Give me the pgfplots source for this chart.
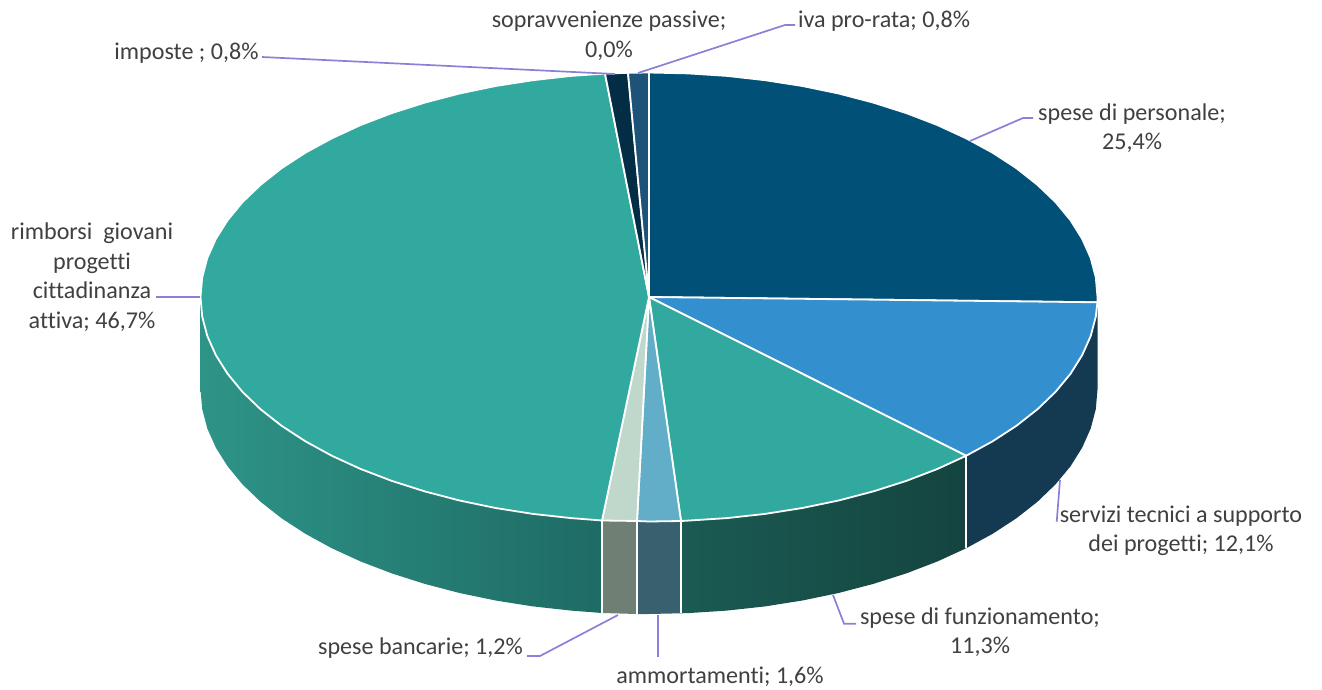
\documentclass[border=0pt]{standalone}
\usepackage{fontspec}
\setmainfont{Carlito}[Ligatures=NoCommon]
\usepackage{pgfplots}
\pgfplotsset{compat=1.18}

\definecolor{cPers}{HTML}{005078}
\definecolor{cServ}{HTML}{348FCE}
\definecolor{cFunz}{HTML}{32A99E}
\definecolor{cAmm}{HTML}{62AEC8}
\definecolor{cBanc}{HTML}{C0D8CB}
\definecolor{cImp}{HTML}{032D45}
\definecolor{cIva}{HTML}{1D5379}
\definecolor{sRimbL}{HTML}{2E9488}
\definecolor{sRimbR}{HTML}{1E6B64}
\definecolor{sFunzL}{HTML}{1A5B53}
\definecolor{sFunzR}{HTML}{15443F}
\definecolor{sServ}{HTML}{143A52}
\definecolor{sAmm}{HTML}{38606F}
\definecolor{sBanc}{HTML}{6F7F73}
\definecolor{leader}{HTML}{8B80D8}
\definecolor{txt}{HTML}{404040}

\pgfplotsset{
  topface/.style={draw=white, line width=0.9pt, line join=round, fill=#1},
  sideface/.style={draw=none, fill=#1},
  sep/.style={draw=white, line width=0.75pt},
  lead/.style={draw=leader, line width=0.85pt},
}
\tikzset{lab/.style={text=txt, align=center, inner sep=0pt,
  font=\fontsize{12.05}{14.75}\selectfont}}

\begin{document}
\begin{tikzpicture}
\useasboundingbox (0,0) rectangle (661pt,345pt);
% axis units are pixels of the picture
\begin{axis}[
  at={(0,0)}, anchor=south west,
  scale only axis, width=661pt, height=345pt,
  xmin=0, xmax=1322, ymin=0, ymax=690,
  y dir=reverse, hide axis, clip=false, no markers,
]
% sides
% rimborsi
\addplot[draw=none, left color=sRimbL, right color=sRimbR] coordinates {
 (602,520.5) (571.1,518.1) (532.9,513.9) (495.6,508.0) (459.5,500.5) (424.8,491.4)
 (391.8,480.9) (360.7,469.0) (331.9,455.8) (305.4,441.3) (281.6,425.8) (260.6,409.3)
 (242.5,391.9) (227.6,373.8) (215.8,355.1) (207.3,336.0) (202.2,316.6) (200.5,297)
 (200.5,389.5) (202.2,409.1) (207.3,428.5) (215.8,447.6) (227.6,466.3) (242.5,484.4)
 (260.6,501.8) (281.6,518.3) (305.4,533.8) (331.9,548.3) (360.7,561.5) (391.8,573.4)
 (424.8,583.9) (459.5,593.0) (495.6,600.5) (532.9,606.4) (571.1,610.6) (602,613)
} -- cycle;
% spese bancarie
\addplot[sideface=sBanc] coordinates {(637,521) (602,520.5) (602,613) (637,614)} -- cycle;
% ammortamenti
\addplot[sideface=sAmm] coordinates {(681,521) (637,521) (637,614) (649,614) (681,613.3)} -- cycle;
% spese di funzionamento
\addplot[draw=none, left color=sFunzL, right color=sFunzR] coordinates {
 (966.1,455.8) (937.3,469.0) (906.3,480.9) (873.3,491.4) (838.6,500.5) (802.4,508.0)
 (765.1,513.9) (726.9,518.1) (688.1,520.6) (681,521)
 (681,613.3) (688.1,613.1) (726.9,610.6) (765.1,606.4) (802.4,600.5) (838.6,593.0)
 (873.3,583.9) (906.3,573.4) (937.3,561.5) (966.1,548.3)
} -- cycle;
% servizi tecnici
\addplot[sideface=sServ] coordinates {
 (1097.5,302) (1095.8,316.6) (1090.7,336.0) (1082.2,355.1) (1070.5,373.8) (1055.5,391.9)
 (1037.4,409.3) (1016.4,425.8) (992.6,441.3) (966.1,455.8)
 (966.1,548.3) (992.6,533.8) (1016.4,518.3) (1037.4,501.8) (1055.5,484.4) (1070.5,466.3)
 (1082.2,447.6) (1090.7,428.5) (1095.8,409.1) (1097.5,389.5)
} -- cycle;
% side separators
\addplot[sep] coordinates {(966.1,455.8) (966.1,548.3)};
\addplot[sep] coordinates {(681,521) (681,613.3)};
\addplot[sep] coordinates {(637,521) (637,614)};
\addplot[sep] coordinates {(602,520.5) (602,613)};

% top face
% spese di personale 25,4%
\addplot[topface=cPers] coordinates {
 (649,297) (649,72.5) (688.1,73.4) (726.9,75.9) (765.1,80.2) (802.4,86.0) (838.6,93.5)
 (873.3,102.6) (906.3,113.1) (937.3,125.0) (966.1,138.3) (992.6,152.7) (1016.4,168.2)
 (1037.4,184.8) (1055.5,202.1) (1070.5,220.2) (1082.2,238.9) (1090.7,258.0) (1095.8,277.4)
 (1097.5,297) (1097.4,302.3)
} -- cycle;
% servizi tecnici 12,1%
\addplot[topface=cServ] coordinates {
 (649,297) (1097.4,302.3) (1095.8,316.6) (1090.7,336.0) (1082.2,355.1) (1070.5,373.8)
 (1055.5,391.9) (1037.4,409.3) (1016.4,425.8) (992.6,441.3) (966.1,455.8)
} -- cycle;
% spese di funzionamento 11,3%
\addplot[topface=cFunz] coordinates {
 (649,297) (966.1,455.8) (937.3,469.0) (906.3,480.9) (873.3,491.4) (838.6,500.5)
 (802.4,508.0) (765.1,513.9) (726.9,518.1) (688.1,520.6) (681,521)
} -- cycle;
% ammortamenti 1,6%
\addplot[topface=cAmm] coordinates {(649,297) (681,521) (649,521.5) (637,521)} -- cycle;
% spese bancarie 1,2%
\addplot[topface=cBanc] coordinates {(649,297) (637,521) (609.9,520.6) (602,520.5)} -- cycle;
% rimborsi 46,7%
\addplot[topface=cFunz] coordinates {
 (649,297) (602,520.5) (571.1,518.1) (532.9,513.9) (495.6,508.0) (459.5,500.5) (424.8,491.4)
 (391.8,480.9) (360.7,469.0) (331.9,455.8) (305.4,441.3) (281.6,425.8) (260.6,409.3)
 (242.5,391.9) (227.6,373.8) (215.8,355.1) (207.3,336.0) (202.2,316.6) (200.5,297)
 (202.2,277.4) (207.3,258.0) (215.8,238.9) (227.6,220.2) (242.5,202.1) (260.6,184.8)
 (281.6,168.2) (305.4,152.7) (331.9,138.3) (360.7,125.0) (391.8,113.1) (424.8,102.6)
 (459.5,93.5) (495.6,86.0) (532.9,80.2) (571.1,75.9) (605,73.6)
} -- cycle;
% imposte 0,8%
\addplot[topface=cImp] coordinates {(649,297) (605,73.6) (628,72.8)} -- cycle;
% iva pro-rata 0,8%
\addplot[topface=cIva] coordinates {(649,297) (628,72.8) (649,72.5)} -- cycle;

% leader lines
\addplot[lead] coordinates {(262,57) (615,74)};
\addplot[lead] coordinates {(638,73) (785,25) (795,25)};
\addplot[lead] coordinates {(970,141) (1023,118) (1033,118)};
\addplot[lead] coordinates {(1060,480) (1056.7,521.7)};
\addplot[lead] coordinates {(833,595) (844,623.7) (856,623.7)};
\addplot[lead] coordinates {(658,615) (658,657)};
\addplot[lead] coordinates {(618,615) (540,656) (527,656)};
\addplot[lead] coordinates {(156,297) (200,297)};

% labels
\node[lab] at (axis cs:609,36) {sopravvenienze passive;\\0,0\%};
\node[lab] at (axis cs:884,21) {iva pro-rata; 0,8\%};
\node[lab] at (axis cs:186.5,53) {imposte ; 0,8\%};
\node[lab] at (axis cs:1132,128) {spese di personale;\\25,4\%};
\node[lab] at (axis cs:92,277) {rimborsi\ \ giovani\\progetti\\cittadinanza\\attiva; 46,7\%};
\node[lab] at (axis cs:1181,531) {servizi tecnici a supporto\\dei progetti; 12,1\%};
\node[lab] at (axis cs:980,632) {spese di funzionamento;\\11,3\%};
\node[lab] at (axis cs:720,677) {ammortamenti; 1,6\%};
\node[lab] at (axis cs:420.5,648) {spese bancarie; 1,2\%};
\end{axis}
\end{tikzpicture}
\end{document}
